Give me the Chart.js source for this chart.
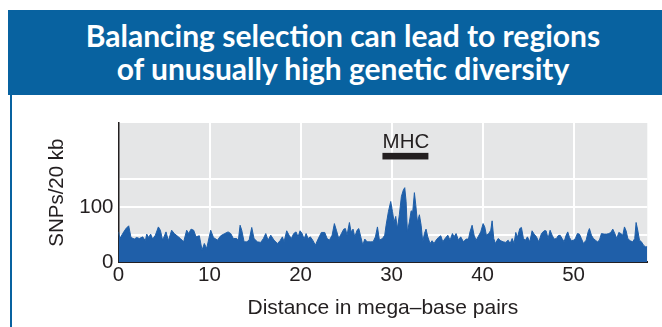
<!DOCTYPE html>
<html>
<head>
<meta charset="utf-8">
<script src="https://cdn.jsdelivr.net/npm/chart.js@4"></script>
<style>
  html, body { margin: 0; padding: 0; background: #ffffff; overflow: hidden; width: 662px; height: 327px; }
  #banner { position: absolute; left: 8px; top: 10px; width: 670px; height: 85px; background: #0862a0; }
  #title { position: absolute; left: 8px; top: 10px; width: 670px; padding-top: 9px; text-align: center;
           color: #ffffff; font-family: Lato, "Open Sans", sans-serif; font-weight: 700; font-size: 30px; line-height: 33px; }
  #rule { position: absolute; left: 10px; top: 95px; width: 2px; height: 240px; background: #0862a0; }
  #c { position: absolute; left: 0; top: 0; }
</style>
</head>
<body>
<div id="banner"></div>
<div id="title">Balancing selection can lead to regions<br>of unusually high genetic diversity</div>
<div id="rule"></div>
<canvas id="c" width="662" height="327"></canvas>
<script>
// Position along the chromosome (mega-base pairs)
const positionsMb = [
  0.0, 0.16, 0.46, 0.82, 1.12, 1.37, 1.74, 1.99, 2.29, 2.66, 2.95, 3.1, 3.31, 3.53, 3.75, 4.05, 4.38, 4.6, 4.85, 5.22,
  5.48, 5.84, 6.13, 6.43, 6.8, 7.16, 7.49, 7.71, 7.97, 8.26, 8.52, 8.88, 9.18, 9.43, 9.69,
  10.13, 10.43, 10.87, 11.23, 11.67, 12.04, 12.33, 12.62, 12.99, 13.17, 13.36, 13.54, 13.8, 14.09, 14.35, 14.64, 14.89,
  15.26, 15.63, 15.92, 16.18, 16.43, 16.73, 17.09, 17.46, 17.75, 18.01, 18.19, 18.48, 18.74, 18.99,
  19.25, 19.51, 19.73, 19.95, 20.17, 20.39, 20.61, 20.83, 21.08, 21.34, 21.63, 21.93, 22.29, 22.66, 22.92, 23.17, 23.47,
  23.72, 23.94, 24.2, 24.49, 24.75, 24.93, 25.11, 25.37, 25.55, 25.77, 25.96, 26.21, 26.4, 26.62, 26.84, 27.06, 27.31,
  27.68, 27.97, 28.23, 28.45, 28.67,
  29.0, 29.25, 29.4, 29.66, 29.91, 30.1, 30.28, 30.46, 30.64, 30.86, 31.08, 31.3, 31.45, 31.6, 31.74, 31.96, 32.15,
  32.33, 32.51, 32.66, 32.84, 33.06, 33.25, 33.43, 33.61, 33.79, 33.98, 34.23, 34.45, 34.67, 34.89, 35.15, 35.41,
  35.63, 35.88, 36.18, 36.43, 36.69, 36.87, 37.09, 37.35, 37.6, 37.9, 38.19, 38.45,
  38.62, 38.85, 39.07, 39.29, 39.51, 39.8, 40.06, 40.24, 40.42, 40.68, 40.9, 41.05, 41.23, 41.41, 41.71, 42.0, 42.26,
  42.55, 42.81, 43.03, 43.25, 43.46, 43.65, 43.83, 44.09, 44.27, 44.49, 44.71, 44.93, 45.19, 45.44, 45.66, 45.92,
  46.18, 46.47, 46.76, 46.98, 47.2, 47.42, 47.64, 47.86, 48.12,
  48.3, 48.52, 48.74, 48.96, 49.18, 49.36, 49.55, 49.76, 49.98, 50.2, 50.42, 50.64, 50.86, 51.08, 51.38, 51.6, 51.74,
  51.96, 52.18, 52.4, 52.62, 52.84, 53.06, 53.35, 53.65, 53.87, 54.09, 54.31, 54.53, 54.75, 54.97, 55.19, 55.41,
  55.59, 55.77, 55.96, 56.21, 56.5, 56.72, 56.87, 57.05, 57.24, 57.46, 57.68, 57.9, 58.1
];
// SNPs per 20 kb window
const snpsPer20kb = [
  55, 43, 52, 61, 66, 45, 42, 45, 43, 46, 39, 51, 45, 51, 42, 49, 64, 58, 40, 55,
  39, 58, 52, 48, 43, 37, 58, 52, 60, 58, 46, 48, 22, 34, 25,
  58, 45, 40, 48, 52, 55, 52, 43, 43, 40, 67, 58, 37, 37, 40, 63, 43,
  37, 36, 43, 52, 40, 49, 40, 34, 39, 46, 37, 57, 49, 43,
  52, 55, 46, 57, 52, 42, 52, 43, 46, 40, 31, 42, 54, 54, 43, 40, 49,
  70, 58, 43, 52, 60, 61, 49, 72, 55, 60, 46, 58, 61, 46, 31, 42, 37,
  37, 37, 46, 64, 40,
  43, 49, 67, 92, 110, 92, 73, 83, 61, 86, 119, 131, 135, 110, 55, 73, 93,
  92, 126, 104, 73, 86, 67, 37, 52, 60, 46, 34, 39, 34, 40, 45, 48,
  37, 43, 49, 40, 52, 46, 52, 40, 46, 37, 42, 42,
  55, 67, 49, 40, 46, 55, 70, 64, 49, 52, 58, 75, 43, 34, 43, 39, 37,
  36, 40, 34, 43, 34, 54, 45, 61, 63, 43, 40, 46, 37, 57, 51, 46,
  37, 52, 57, 57, 43, 58, 49, 42, 43,
  48, 49, 43, 37, 49, 55, 45, 39, 40, 43, 52, 51, 43, 34, 40, 55, 61,
  49, 43, 40, 37, 40, 52, 51, 51, 52, 54, 60, 52, 43, 54, 52, 49,
  64, 57, 43, 39, 37, 43, 72, 58, 40, 37, 31, 28, 28
];
const xTickValues = [0, 10, 20, 30, 40, 50];
const xGridValues = [10, 20, 30, 40, 50];
const yTickLabels = [0, 100];
const yGridValues = [50, 100, 150];
const mhcRangeMb = [29.0, 34.05];
const mhcLabel = "MHC";
const mhcBarLevel = 192;
const mhcTextLevel = 207;

const INK = "#231f20";
const BLUE = "#1f5fa9";
const FONT = "'Liberation Sans', Arial, sans-serif";

const plotBg = {
  id: "plotBg",
  beforeDraw(chart) {
    const a = chart.chartArea, ctx = chart.ctx;
    ctx.save();
    ctx.fillStyle = "#e5e6e7";
    ctx.fillRect(a.left, a.top, a.right - a.left, a.bottom - a.top);
    ctx.restore();
  }
};

const mhcMark = {
  id: "mhcMark",
  afterDatasetsDraw(chart) {
    const xs = chart.scales.x, ys = chart.scales.y, ctx = chart.ctx;
    const x0 = xs.getPixelForValue(mhcRangeMb[0]);
    const x1 = xs.getPixelForValue(mhcRangeMb[1]);
    const yb = ys.getPixelForValue(mhcBarLevel);
    ctx.save();
    ctx.fillStyle = INK;
    ctx.fillRect(x0, yb - 3.3, x1 - x0, 6.6);
    ctx.font = "20.5px " + FONT;
    ctx.textAlign = "center";
    ctx.textBaseline = "alphabetic";
    ctx.fillText(mhcLabel, (x0 + x1) / 2 + 0.5, ys.getPixelForValue(mhcTextLevel));
    ctx.restore();
  }
};

new Chart(document.getElementById("c"), {
  type: "line",
  data: {
    datasets: [{
      data: positionsMb.map((x, i) => ({ x: x, y: snpsPer20kb[i] })),
      fill: "origin",
      backgroundColor: BLUE,
      borderColor: BLUE,
      borderWidth: 1,
      pointRadius: 0,
      tension: 0
    }]
  },
  options: {
    responsive: false,
    animation: false,
    events: [],
    layout: { padding: { top: 123, right: 14.7, left: 0, bottom: 0 } },
    plugins: { legend: { display: false }, tooltip: { enabled: false } },
    scales: {
      x: {
        type: "linear",
        min: 0,
        max: 58.1,
        afterBuildTicks: (s) => { s.ticks = xTickValues.map(v => ({ value: v })); },
        afterFit: (s) => { s.height = 64.7; },
        border: { display: true, color: INK, width: 2 },
        grid: {
          drawTicks: false,
          lineWidth: 2,
          color: (c) => (c.tick && xGridValues.includes(c.tick.value)) ? "#ffffff" : "rgba(0,0,0,0)"
        },
        ticks: { color: INK, padding: 1, font: { family: FONT, size: 20.5 }, maxRotation: 0 },
        title: {
          display: true,
          text: "Distance in mega\u2013base pairs",
          color: INK,
          font: { family: FONT, size: 21 },
          padding: { top: 0, bottom: 5.7 }
        }
      },
      y: {
        min: 0,
        max: 252,
        afterBuildTicks: (s) => { s.ticks = [0].concat(yGridValues).map(v => ({ value: v })); },
        afterFit: (s) => { s.width = 118.5; },
        border: { display: true, color: INK, width: 1.5 },
        grid: {
          drawTicks: false,
          lineWidth: 2,
          color: (c) => (c.tick && yGridValues.includes(c.tick.value)) ? "#ffffff" : "rgba(0,0,0,0)"
        },
        ticks: {
          color: INK,
          padding: 5,
          font: { family: FONT, size: 20.5 },
          callback: (v) => yTickLabels.includes(v) ? String(v) : ""
        },
        title: {
          display: true,
          text: "SNPs/20 kb",
          color: INK,
          font: { family: FONT, size: 20.5 },
          padding: { top: 45, bottom: 0 }
        }
      }
    }
  },
  plugins: [plotBg, mhcMark]
});
</script>
</body>
</html>
